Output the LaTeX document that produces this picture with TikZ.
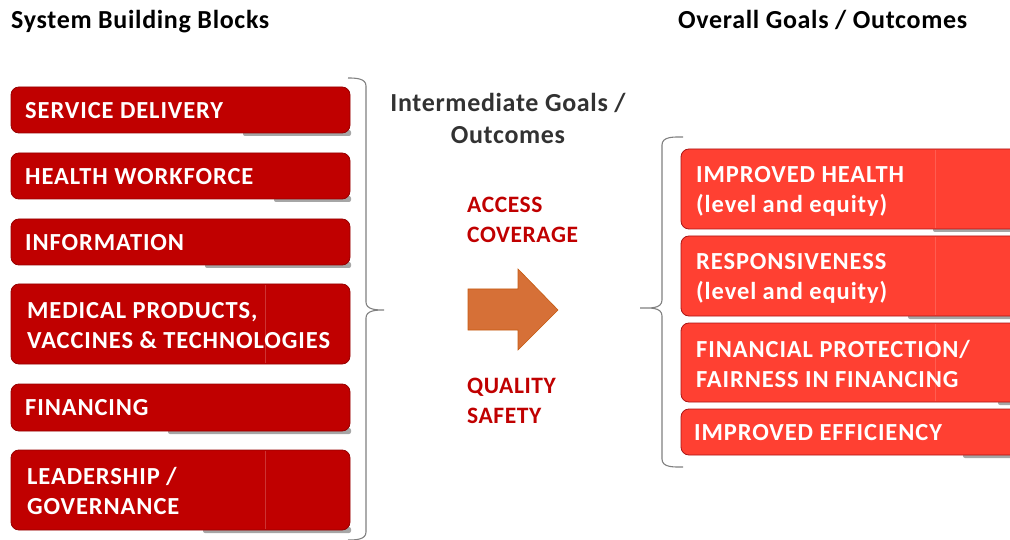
\documentclass[tikz,border=0pt]{standalone}
\usepackage{fontspec}
\setmainfont{Carlito}
\definecolor{lbox}{RGB}{192,0,0}
\definecolor{lboxline}{RGB}{150,0,0}
\definecolor{rbox}{RGB}{255,64,50}
\definecolor{rboxline}{RGB}{170,20,20}
\definecolor{darkred}{RGB}{192,0,0}
\definecolor{midgray}{RGB}{50,50,50}
\definecolor{bracegray}{RGB}{128,128,128}
\definecolor{arrowfill}{RGB}{214,112,55}
\definecolor{arrowline}{RGB}{197,90,17}
\tikzset{
  x=1pt, y=-1pt,
  boxtext/.style={font=\bfseries\fontsize{24.5}{30}\selectfont\addfontfeature{LetterSpace=3.7}, text=white, align=left, inner sep=0pt},
  lblock/.style={draw=lboxline, fill=lbox, rounded corners=8pt, line width=0.8pt},
  rblock/.style={draw=rboxline, fill=rbox, rounded corners=8pt, line width=0.8pt},
  shadowbar/.style={fill=black!35, rounded corners=2pt},
  seam/.style={draw=white!20!lbox, line width=0.5pt},
  rseam/.style={draw=white!15!rbox, line width=0.5pt},
  brace/.style={draw=bracegray, line width=1.1pt},
  title/.style={font=\bfseries\fontsize{26}{30}\selectfont\addfontfeature{LetterSpace=2.6}, text=black, anchor=base west, inner sep=0pt},
  goal/.style={font=\bfseries\fontsize{23.5}{30}\selectfont\addfontfeature{LetterSpace=2.5}, text=darkred, align=left, anchor=north west, inner sep=0pt},
}
\begin{document}
\begin{tikzpicture}
\useasboundingbox (0,0) rectangle (1010,540);
% titles
\node[title] (t1) at (11,28.5) {System Building Blocks};
\node[title] (t2) at (678,28.5) {Overall Goals / Outcomes};
\node[font=\bfseries\fontsize{26}{32}\selectfont\addfontfeature{LetterSpace=2.6}, text=midgray, align=center, inner sep=0pt] (t3) at (508,118) {Intermediate Goals /\\Outcomes};

% left shadows
\fill[shadowbar] (243,130) rectangle (351,136);
\fill[shadowbar] (274,196) rectangle (351,202);
\fill[shadowbar] (205,262) rectangle (351,268);
\fill[shadowbar] (168,428) rectangle (351,434);
\fill[shadowbar] (203,527) rectangle (351,533);

% left blocks
\draw[lblock] (11,87) rectangle (350,133);
\draw[lblock] (11,153) rectangle (350,199);
\draw[lblock] (11,219) rectangle (350,265);
\draw[lblock] (11,284) rectangle (350,364);
\draw[lblock] (11,384) rectangle (350,431);
\draw[lblock] (11,450) rectangle (350,530);
\draw[seam] (265,285) -- (265,363);
\draw[seam] (265,451) -- (265,529);

\node[boxtext, anchor=west] (b1) at (25,110.5) {SERVICE DELIVERY};
\node[boxtext, anchor=west] (b2) at (25,176.5) {HEALTH WORKFORCE};
\node[boxtext, anchor=west] (b3) at (25,242.5) {INFORMATION};
\node[boxtext, anchor=west] (b4) at (27,325.5) {MEDICAL PRODUCTS,\\VACCINES \& TECHNOLOGIES};
\node[boxtext, anchor=west] (b5) at (25,408) {FINANCING};
\node[boxtext, anchor=west] (b6) at (27,490.5) {LEADERSHIP /\\GOVERNANCE};

% left brace
\draw[brace] (348,78) to[out=0,in=90] (366,86) -- (366,302) to[out=-90,in=180] (384,310)
  to[out=180,in=90] (366,318) -- (366,532) to[out=-90,in=0] (348,540);

% middle goals
\node[goal] (g1) at (467,197) {ACCESS\\COVERAGE};
\node[goal] (g2) at (467,378) {QUALITY\\SAFETY};

% arrow
\draw[fill=arrowfill, draw=arrowline, line width=0.6pt] (468,289) -- (518,289) -- (518,269) -- (558,310) -- (518,350) -- (518,330) -- (468,330) -- cycle;

% right brace
\draw[brace] (683,137) to[out=180,in=90] (662,145) -- (662,300) to[out=-90,in=0] (640,308)
  to[out=0,in=90] (662,316) -- (662,459) to[out=-90,in=180] (683,467);

% right shadows
\fill[shadowbar] (933,226) rectangle (1012,232);
\fill[shadowbar] (908,313) rectangle (1012,319);
\fill[shadowbar] (998,399) rectangle (1012,405);
\fill[shadowbar] (963,452) rectangle (1012,458);

% right blocks
\draw[rblock] (681,149) rectangle (1030,229);
\draw[rblock] (681,236) rectangle (1030,316);
\draw[rblock] (681,323) rectangle (1030,402);
\draw[rblock] (681,409) rectangle (1030,455);
\draw[rseam] (935,150) -- (935,228);
\draw[rseam] (935,237) -- (935,315);
\draw[rseam] (935,324) -- (935,401);

\node[boxtext, anchor=west] (r1) at (696,191) {IMPROVED HEALTH\\(level and equity)};
\node[boxtext, anchor=west] (r2) at (696,278) {RESPONSIVENESS\\(level and equity)};
\node[boxtext, anchor=west] (r3) at (696,364) {FINANCIAL PROTECTION/\\FAIRNESS IN FINANCING};
\node[boxtext, anchor=west] (r4) at (694,433) {IMPROVED EFFICIENCY};
\end{tikzpicture}
\end{document}
